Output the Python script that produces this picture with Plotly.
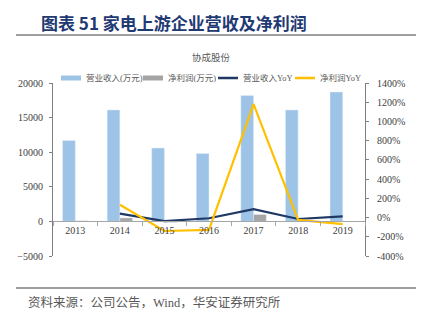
import plotly.graph_objects as go

years = ["2013", "2014", "2015", "2016", "2017", "2018", "2019"]
revenue = [11700, 16100, 10600, 9800, 18200, 16100, 18700]
net_profit = [80, 500, -150, 40, 1000, -40, -80]
rev_yoy = [None, 40, -36, -7, 88, -15, 12]
np_yoy = [None, 134, -140, -128, 1180, -25, -68]

left_ticks = [-5000, 0, 5000, 10000, 15000, 20000]
right_ticks = [-400, -200, 0, 200, 400, 600, 800, 1000, 1200, 1400]
right_labels = [f"{v}%" for v in right_ticks]

W, H = 422, 325
ML, MR, MT, MB = 53, 57, 83, 69
PW, PH = W - ML - MR, H - MT - MB


def xp(px):
    return (px - ML) / PW


def yp(py):
    return (H - MB - py) / PH


BLUE = "#9DC3E6"
GREY = "#A5A5A5"
NAVY = "#1F3864"
YELLOW = "#FFC000"
FONT = "Liberation Serif, Noto Sans CJK SC"
TXT = "#404040"

fig = go.Figure()
fig.add_trace(go.Bar(x=years, y=revenue, marker_color=BLUE, showlegend=False,
                     name="营业收入(万元)", yaxis="y"))
fig.add_trace(go.Bar(x=years, y=net_profit, marker_color=GREY, showlegend=False,
                     name="净利润(万元)", yaxis="y"))
fig.add_trace(go.Scatter(x=years, y=rev_yoy, mode="lines", line=dict(color=NAVY, width=2.2),
                         name="营业收入YoY", yaxis="y2", showlegend=False))
fig.add_trace(go.Scatter(x=years, y=np_yoy, mode="lines", line=dict(color=YELLOW, width=2.2),
                         name="净利润YoY", yaxis="y2", showlegend=False))

# legend entries, one legend per entry so each can be placed like the original
legend_items = [("营业收入(万元)", BLUE, 5, 86), ("净利润(万元)", GREY, 5, 168),
                ("营业收入YoY", NAVY, 2.5, 243), ("净利润YoY", YELLOW, 2.5, 320)]
legend_layouts = {}
for i, (nm, col, w, tx) in enumerate(legend_items):
    key = "legend" if i == 0 else f"legend{i + 1}"
    fig.add_trace(go.Scatter(x=[None], y=[None], mode="lines", line=dict(color=col, width=w),
                             name=nm, yaxis="y2", showlegend=True, legend=key))
    legend_layouts[key] = dict(orientation="h", x=xp(tx - 25), xanchor="left", y=yp(78),
                               yanchor="middle", font=dict(size=8.5, color="#595959"),
                               itemwidth=30, indentation=-15, bgcolor="rgba(0,0,0,0)",
                               borderwidth=0)

fig.update_layout(
    width=W, height=H,
    margin=dict(l=ML, r=MR, t=MT, b=MB),
    paper_bgcolor="white", plot_bgcolor="white",
    font=dict(family=FONT, size=10, color=TXT),
    barmode="group", bargap=0.43, bargroupgap=0,
    showlegend=True,
    xaxis=dict(type="category", anchor="free", position=0.2, showline=True,
               linecolor="#A6A6A6", linewidth=1, ticks="outside", tickson="boundaries",
               ticklen=4, tickcolor="#A6A6A6", showgrid=False, zeroline=False,
               tickfont=dict(size=10, color=TXT)),
    yaxis=dict(range=[-5000, 20000], tickvals=left_ticks, tickformat="d", showline=True,
               linecolor="#808080", linewidth=1, ticks="outside", ticklen=3,
               tickcolor="#808080", showgrid=False, zeroline=False,
               tickfont=dict(size=10, color=TXT), ticklabelstandoff=4),
    yaxis2=dict(range=[-400, 1400], tickvals=right_ticks, ticktext=right_labels,
                overlaying="y", side="right", showline=True, linecolor="#808080", linewidth=1,
                ticks="outside", ticklen=3, tickcolor="#808080", showgrid=False, zeroline=False,
                tickfont=dict(size=10, color=TXT), ticklabelstandoff=6),
    annotations=[
        dict(text="<b>图表 51 家电上游企业营收及净利润</b>", x=xp(39), y=yp(23), xref="paper",
             yref="paper", xanchor="left", yanchor="middle", showarrow=False,
             font=dict(family="Noto Sans CJK SC", size=17, color="#1F3A73")),
        dict(text="协成股份", x=xp(211), y=yp(57), xref="paper", yref="paper",
             xanchor="center", yanchor="middle", showarrow=False,
             font=dict(family="Noto Sans CJK SC", size=9.5, color="#595959")),
        dict(text="资料来源：公司公告，Wind，华安证券研究所", x=xp(26), y=yp(302), xref="paper",
             yref="paper", xanchor="left", yanchor="middle", showarrow=False,
             font=dict(family=FONT, size=12.5, color="#595959")),
    ],
    shapes=[
        dict(type="line", xref="paper", yref="paper", x0=xp(16), x1=xp(416), y0=yp(35), y1=yp(35),
             line=dict(color="#404040", width=1.2)),
        dict(type="line", xref="paper", yref="paper", x0=xp(16), x1=xp(416), y0=yp(288), y1=yp(288),
             line=dict(color="#404040", width=1.2)),
    ],
    **legend_layouts,
)

fig.write_html("out.html")
